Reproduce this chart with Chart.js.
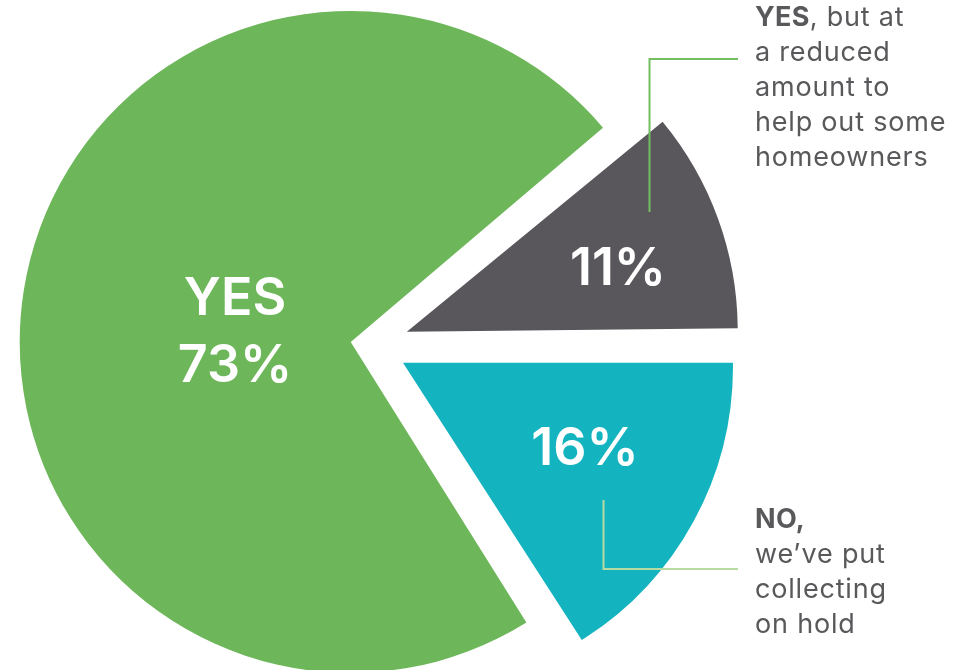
<!DOCTYPE html>
<html><head><meta charset="utf-8">
<script src="https://cdn.jsdelivr.net/npm/chart.js@4.4.1/dist/chart.umd.min.js"></script>
<style>
html,body{margin:0;padding:0;background:#fff;overflow:hidden;width:964px;height:670px;}
#wrap{position:absolute;left:0;top:0;width:964px;height:690px;}
canvas{display:block;}
.note{position:absolute;left:755px;font-family:Inter,"Noto Sans",sans-serif;font-size:27px;letter-spacing:0.8px;line-height:35px;color:#59595c;white-space:nowrap;}
.note b{font-weight:700;letter-spacing:0.3px;}
</style></head><body>
<div id="wrap"><canvas id="c" width="964" height="690" style="width:964px;height:690px"></canvas></div>
<div class="note" style="top:-1.5px"><b>YES</b>, but at<br>a reduced<br>amount to<br>help out some<br>homeowners</div>
<div class="note" style="top:500.5px"><b>NO,</b><br>we’ve put<br>collecting<br>on hold</div>
<script>
const categories = ['YES, but at a reduced amount to help out some homeowners', 'NO, we’ve put collecting on hold', 'YES'];
const values = [11, 16, 73];
const sliceColors = ['#59575b', '#13b3c0', '#6db75a'];
const sliceLabels = [['11%'], ['16%'], ['YES', '73%']];

const labelPlugin = {
  id: 'labelPlugin',
  afterDraw(chart) {
    const ctx = chart.ctx;
    ctx.save();
    // leader lines
    ctx.lineWidth = 2;
    ctx.strokeStyle = '#74bf62';
    ctx.beginPath();
    ctx.moveTo(738, 59); ctx.lineTo(649.5, 59); ctx.lineTo(649.5, 212);
    ctx.stroke();
    ctx.strokeStyle = '#b7dca2';
    ctx.beginPath();
    ctx.moveTo(603.5, 500); ctx.lineTo(603.5, 569); ctx.lineTo(738, 569);
    ctx.stroke();
    // slice labels
    const anchors = [[618, [285]], [585, [465]], [235, [315, 382]]];
    ctx.fillStyle = '#ffffff';
    ctx.font = '600 52px Inter, "Noto Sans", sans-serif';
    ctx.textAlign = 'center';
    ctx.textBaseline = 'alphabetic';
    sliceLabels.forEach((lines, i) => {
      const [x, ys] = anchors[i];
      lines.forEach((t, j) => ctx.fillText(t, x, ys[j]));
    });
    ctx.restore();
  }
};

new Chart(document.getElementById('c'), {
  type: 'pie',
  data: {
    labels: categories,
    datasets: [{
      data: values,
      backgroundColor: sliceColors,
      borderColor: sliceColors,
      borderWidth: [2.4, 8.4, 0],
      borderJoinStyle: 'miter',
      offset: [169, 183, 80]
    }]
  },
  options: {
    responsive: false,
    animation: false,
    events: [],
    rotation: 50.2,
    radius: 311,
    layout: { padding: { left: 0, top: 0, right: 223, bottom: 0 } },
    plugins: { legend: { display: false }, tooltip: { enabled: false } }
  },
  plugins: [labelPlugin]
});
</script>
</body></html>
